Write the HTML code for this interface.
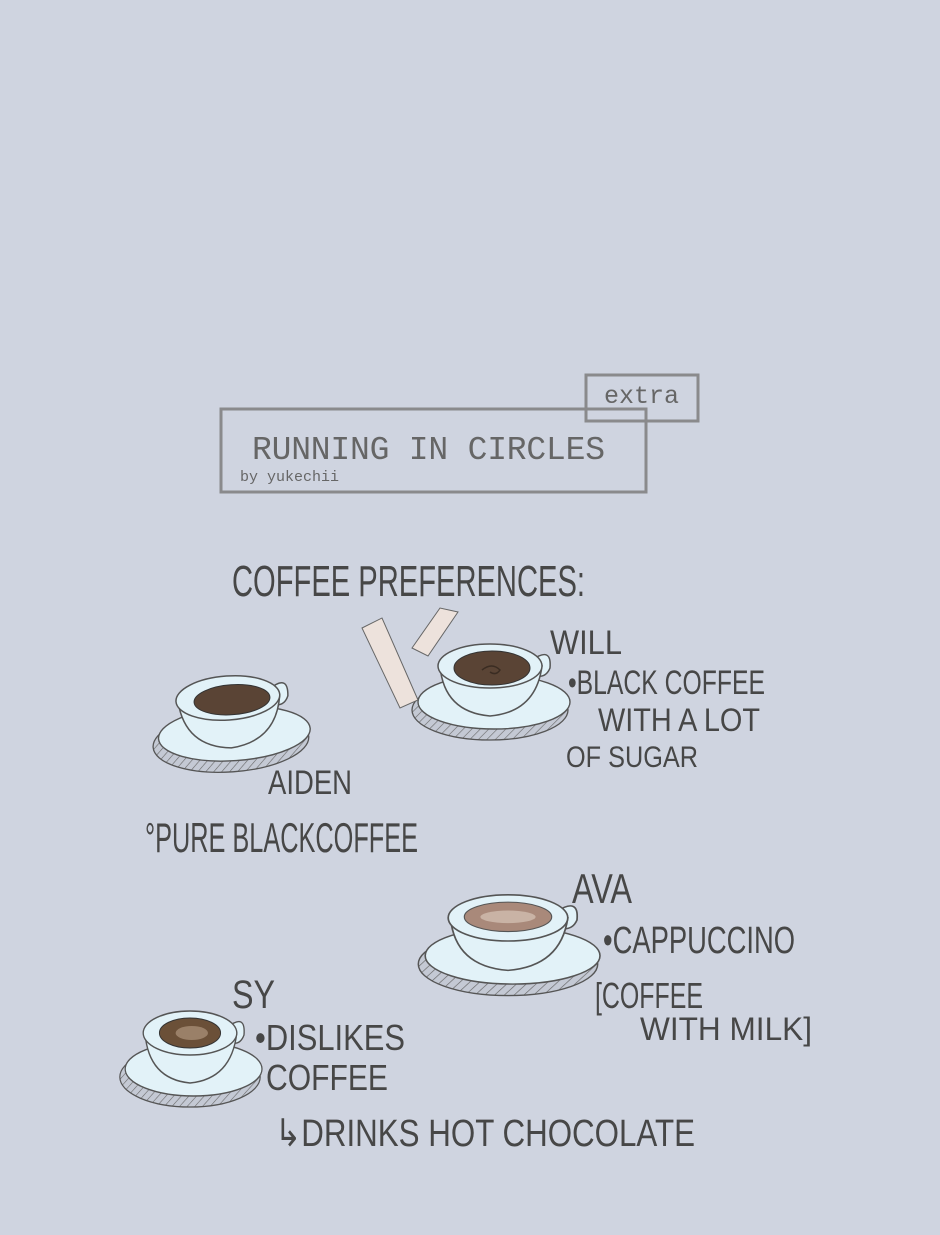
<!DOCTYPE html>
<html><head><meta charset="utf-8">
<style>
html,body{margin:0;padding:0;background:#cfd4e0;}
svg{display:block;}
.h{font-family:"Liberation Sans",sans-serif;fill:#474747;}
</style></head><body>
<svg width="940" height="1235" viewBox="0 0 940 1235" xmlns="http://www.w3.org/2000/svg">
<rect width="940" height="1235" fill="#cfd4e0"/>
<rect x="221" y="409" width="425" height="83" fill="none" stroke="#8a8a8c" stroke-width="3"/>
<rect x="586" y="375" width="112" height="46" fill="none" stroke="#8a8a8c" stroke-width="3"/>
<text x="604" y="403" font-family="Liberation Mono,monospace" font-size="25" fill="#666">extra</text>
<text x="252" y="459" font-family="Liberation Mono,monospace" font-size="33" fill="#666" textLength="353">RUNNING IN CIRCLES</text>
<text x="240" y="481" font-family="Liberation Mono,monospace" font-size="15" fill="#666">by yukechii</text>

<defs>
<pattern id="hatch" width="6" height="6" patternUnits="userSpaceOnUse" patternTransform="rotate(45)">
<rect width="6" height="6" fill="#c4c9d4"/><line x1="0" y1="0" x2="0" y2="6" stroke="#666" stroke-width="1.2"/>
</pattern>
<g id="cup">
<ellipse cx="0" cy="42" rx="78" ry="30" fill="url(#hatch)" stroke="#555" stroke-width="1.3"/>
<ellipse cx="4" cy="34" rx="76" ry="27" fill="#e2f2f8" stroke="#555" stroke-width="1.4"/>
<path d="M42,-8 q20,-14 18,8 q-4,10 -14,8" fill="#e2f2f8" stroke="#555" stroke-width="1.5"/>
<path d="M-50,-2 Q-46,44 0,48 Q46,44 52,-2 Z" fill="#e2f2f8" stroke="#555" stroke-width="1.5"/>
<ellipse cx="0" cy="-2" rx="52" ry="22" fill="#e2f2f8" stroke="#555" stroke-width="1.5"/>
</g>
</defs>

<g transform="translate(228,700) rotate(-4)">
<use href="#cup"/>
<ellipse cx="4" cy="0" rx="38" ry="15" fill="#5a4435" stroke="#333"/>
</g>
<g transform="translate(490,668)">
<use href="#cup"/>
<ellipse cx="2" cy="0" rx="38" ry="17" fill="#5a4435" stroke="#333"/>
<path d="M-8,2 q10,-8 18,0 q-4,6 -10,2" fill="none" stroke="#3a2c22" stroke-width="1.5"/>
</g>
<path d="M362,628 L382,618 L418,700 L400,708 Z" fill="#ede2dc" stroke="#666" stroke-width="1"/>
<path d="M412,648 L440,608 L458,612 L428,656 Z" fill="#ede2dc" stroke="#666" stroke-width="1"/>
<g transform="translate(508,920) scale(1.15,1.05)">
<use href="#cup"/>
<ellipse cx="0" cy="-3" rx="38" ry="14" fill="#a9897a" stroke="#555"/>
<ellipse cx="0" cy="-3" rx="24" ry="6" fill="#c9b3a5"/>
</g>
<g transform="translate(190,1035) scale(0.9,1)">
<use href="#cup"/>
<ellipse cx="0" cy="-2" rx="34" ry="15" fill="#6b5038" stroke="#333"/>
<ellipse cx="2" cy="-2" rx="18" ry="7" fill="#9a8068"/>
</g>

<g class="h">
<text x="232" y="596" font-size="44" textLength="353" lengthAdjust="spacingAndGlyphs">COFFEE PREFERENCES:</text>
<text x="550" y="654" font-size="34" textLength="72" lengthAdjust="spacingAndGlyphs">WILL</text>
<text x="568" y="694" font-size="34" textLength="197" lengthAdjust="spacingAndGlyphs">•BLACK COFFEE</text>
<text x="598" y="731" font-size="32" textLength="162" lengthAdjust="spacingAndGlyphs">WITH A LOT</text>
<text x="566" y="767" font-size="30" textLength="132" lengthAdjust="spacingAndGlyphs">OF SUGAR</text>
<text x="268" y="794" font-size="34" textLength="84" lengthAdjust="spacingAndGlyphs">AIDEN</text>
<text x="145" y="852" font-size="42" textLength="273" lengthAdjust="spacingAndGlyphs">°PURE BLACKCOFFEE</text>
<text x="572" y="903" font-size="42" textLength="60" lengthAdjust="spacingAndGlyphs">AVA</text>
<text x="603" y="953" font-size="38" textLength="192" lengthAdjust="spacingAndGlyphs">•CAPPUCCINO</text>
<text x="595" y="1008" font-size="36" textLength="108" lengthAdjust="spacingAndGlyphs">[COFFEE</text>
<text x="640" y="1040" font-size="32" textLength="172" lengthAdjust="spacingAndGlyphs">WITH MILK]</text>
<text x="232" y="1008" font-size="40" textLength="43" lengthAdjust="spacingAndGlyphs">SY</text>
<text x="255" y="1050" font-size="36" textLength="150" lengthAdjust="spacingAndGlyphs">•DISLIKES</text>
<text x="266" y="1090" font-size="36" textLength="122" lengthAdjust="spacingAndGlyphs">COFFEE</text>
<text x="275" y="1146" font-size="38" textLength="420" lengthAdjust="spacingAndGlyphs">↳DRINKS HOT CHOCOLATE</text>
</g>
</svg>
</body></html>
